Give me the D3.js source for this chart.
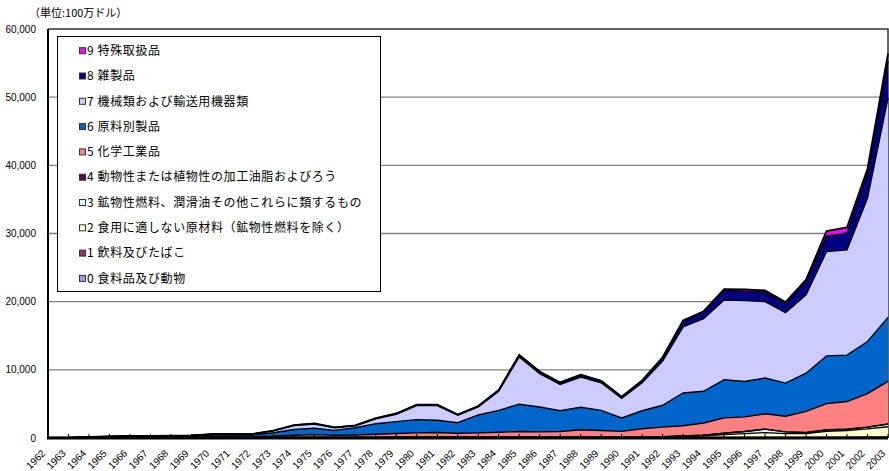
<!DOCTYPE html>
<html>
<head>
<meta charset="utf-8">
<script src="https://cdn.jsdelivr.net/npm/d3@7"></script>
<style>
  body { margin: 0; background: #fff; }
  svg { display: block; }
</style>
</head>
<body>
<svg width="889" height="471"></svg>
<script>
// years 1962-2003
var years = d3.range(1962, 2004);

// category names (bottom of stack first)
var names = [
  "0 食料品及び動物",
  "1 飲料及びたばこ",
  "2 食用に適しない原材料（鉱物性燃料を除く）",
  "3 鉱物性燃料、潤滑油その他これらに類するもの",
  "4 動物性または植物性の加工油脂およびろう",
  "5 化学工業品",
  "6 原料別製品",
  "7 機械類および輸送用機器類",
  "8 雑製品",
  "9 特殊取扱品"
];
var colors = ["#9999FF", "#993366", "#FFFFCC", "#CCFFFF", "#660066",
              "#FF8080", "#0066CC", "#CCCCFF", "#000080", "#FF00FF"];

// values, million US$
var s0 = [2,3,5,5,5,5,5,5,5,5,5,10,10,10,10,10,15,15,20,20,20,20,20,25,25,25,30,30,30,30,40,40,50,60,60,60,60,60,70,70,80,90];
var s1 = [1,1,1,1,2,2,2,2,2,2,2,3,3,3,3,3,3,3,5,5,5,5,5,5,5,5,5,5,5,5,10,10,10,10,15,15,15,15,20,20,20,25];
var s2 = [4,7,14,23,27,22,22,27,34,34,34,45,55,63,45,53,58,65,77,77,57,57,67,72,62,62,67,57,47,62,95,165,215,425,570,720,570,570,900,1000,1240,1525];
var s3 = [2,3,4,5,5,5,5,5,8,8,8,10,10,12,10,12,12,15,15,15,15,15,15,15,15,15,15,15,15,30,50,80,120,200,300,500,250,150,200,200,250,400];
var s4 = [1,1,1,1,1,1,1,1,1,1,1,2,2,2,2,2,2,2,3,3,3,3,3,3,3,3,3,3,3,3,5,5,5,5,5,5,5,5,10,10,10,10];
var s5 = [5,10,20,35,50,45,55,70,100,110,120,180,320,410,310,370,460,550,630,680,600,650,740,830,790,840,1080,990,870,1220,1400,1500,1800,2250,2150,2250,2300,3100,3850,4050,4900,6250];
var s6 = [20,30,75,120,150,150,170,190,270,270,270,530,850,920,740,1050,1550,1750,1950,1800,1550,2630,3210,4000,3650,3050,3300,2950,1980,2650,3200,4800,4650,5600,5200,5250,4850,5600,7000,6800,7650,9400];
var s7 = [3,3,20,35,50,45,55,70,120,125,140,260,570,640,380,280,700,1080,2050,2150,1080,1180,2790,6950,4900,3850,4450,4050,2850,4100,6500,9700,10650,11700,11850,11200,10350,11500,15300,15450,21050,32200];
var s8 = [2,4,10,15,20,15,15,20,20,25,30,40,70,80,55,65,90,110,140,140,110,130,190,280,280,280,330,280,230,320,510,900,1020,1400,1400,1400,1300,1950,2250,2500,3600,5400];
var s9 = [0,0,0,0,0,0,0,0,0,0,0,0,10,10,5,5,10,10,10,10,10,10,10,20,20,20,20,20,20,30,40,50,80,200,250,250,250,300,750,800,700,1100];

var yTicks = [0, 10000, 20000, 30000, 40000, 50000, 60000];

var series = [s0, s1, s2, s3, s4, s5, s6, s7, s8, s9];
var rows = years.map(function (yr, i) {
  var r = { year: yr };
  series.forEach(function (s, k) { r[k] = s[i]; });
  return r;
});

var svg = d3.select("svg");
var plotL = 48, plotR = 888, plotT = 29, plotB = 438;

var x = d3.scaleLinear().domain([1962, 2003]).range([plotL, plotR]);
var y = d3.scaleLinear().domain([0, 60000]).range([plotB, plotT]);

var font = "'Liberation Sans', 'Noto Sans CJK JP', sans-serif";

// grid lines
svg.append("g")
  .selectAll("line")
  .data(yTicks.filter(function (d) { return d > 0 && d < 60000; }))
  .enter().append("line")
  .attr("x1", plotL).attr("x2", plotR)
  .attr("y1", function (d) { return y(d); })
  .attr("y2", function (d) { return y(d); })
  .style("stroke", "#808080")
  .style("stroke-width", 1.3);

// top + right border
svg.append("path")
  .attr("d", "M" + plotL + "," + plotT + "H" + plotR + "V" + plotB)
  .style("fill", "none")
  .style("stroke", "#333")
  .style("stroke-width", 1.5);

// stacked areas
var stack = d3.stack().keys(d3.range(10));
var layers = stack(rows);

var area = d3.area()
  .x(function (d) { return x(d.data.year); })
  .y0(function (d) { return y(d[0]); })
  .y1(function (d) { return y(d[1]); });

var line = d3.line()
  .x(function (d) { return x(d.data.year); })
  .y(function (d) { return y(d[1]); });

svg.append("g")
  .selectAll("path")
  .data(layers)
  .enter().append("path")
  .attr("d", area)
  .style("fill", function (d) { return colors[d.key]; });

svg.append("g")
  .selectAll("path")
  .data(layers)
  .enter().append("path")
  .attr("d", line)
  .style("fill", "none")
  .style("stroke", "#000")
  .style("stroke-width", function (d) { return d.key === 9 ? 1.8 : 1.4; });

// x ticks inside
svg.append("g")
  .selectAll("line")
  .data(years)
  .enter().append("line")
  .attr("x1", function (d) { return x(d); })
  .attr("x2", function (d) { return x(d); })
  .attr("y1", plotB)
  .attr("y2", plotB - 4)
  .style("stroke", "#000")
  .style("stroke-width", 1);

// axes lines
svg.append("line")
  .attr("x1", plotL).attr("x2", plotL)
  .attr("y1", plotT).attr("y2", plotB)
  .style("stroke", "#000").style("stroke-width", 2);
svg.append("line")
  .attr("x1", plotL - 1).attr("x2", plotR)
  .attr("y1", plotB).attr("y2", plotB)
  .style("stroke", "#000").style("stroke-width", 3);

// y labels
svg.append("g")
  .selectAll("text")
  .data(yTicks)
  .enter().append("text")
  .attr("x", 36)
  .attr("y", function (d) { return y(d); })
  .attr("dy", "0.35em")
  .attr("text-anchor", "end")
  .style("font-family", font)
  .style("font-size", "10px")
  .text(function (d) { return d3.format(",")(d); });

// x labels
svg.append("g")
  .selectAll("text")
  .data(years)
  .enter().append("text")
  .attr("text-anchor", "end")
  .attr("transform", function (d) { return "translate(" + (x(d) - 2) + ",454) rotate(-45)"; })
  .style("font-family", font)
  .style("font-size", "10px")
  .text(function (d) { return d; });

// unit
svg.append("text")
  .attr("x", 29)
  .attr("y", 17)
  .style("font-family", "'Noto Sans CJK JP', sans-serif")
  .style("font-size", "11px")
  .text("（単位:100万ドル）");

// legend
var lg = svg.append("g");
lg.append("rect")
  .attr("x", 57.5).attr("y", 36.5)
  .attr("width", 323).attr("height", 255)
  .style("fill", "#fff")
  .style("stroke", "#000")
  .style("stroke-width", 1);

var order = d3.range(9, -1, -1);
var items = lg.selectAll("g.item")
  .data(order)
  .enter().append("g")
  .attr("class", "item")
  .attr("transform", function (d, i) { return "translate(0," + (50.7 + i * 25.3) + ")"; });

items.append("rect")
  .attr("x", 79.5).attr("y", -3)
  .attr("width", 6).attr("height", 6)
  .style("fill", function (d) { return colors[d]; })
  .style("stroke", "#333")
  .style("stroke-width", 1);

items.append("text")
  .attr("x", 87)
  .attr("dy", "0.35em")
  .style("font-family", "'Noto Sans CJK JP', sans-serif")
  .style("font-size", "12px")
  .style("letter-spacing", "0.6px")
  .text(function (d) { return names[d]; });
</script>
</body>
</html>
